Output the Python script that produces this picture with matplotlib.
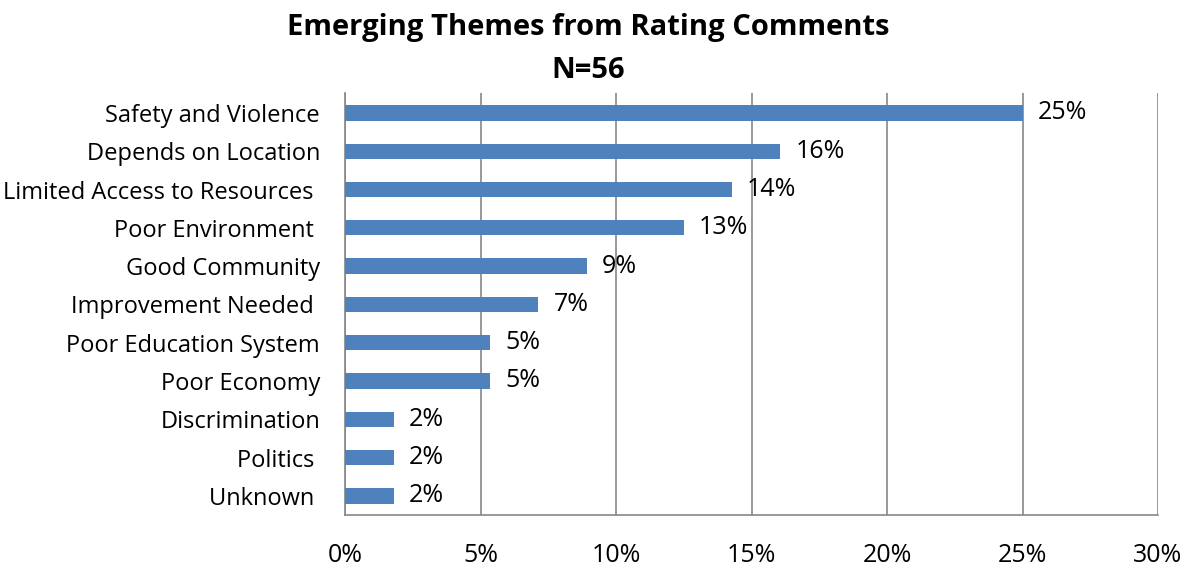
import matplotlib
matplotlib.use("Agg")
import matplotlib.pyplot as plt
from matplotlib.ticker import FuncFormatter

categories = ["Safety and Violence", "Depends on Location", "Limited Access to Resources ",
              "Poor Environment ", "Good Community", "Improvement Needed ",
              "Poor Education System", "Poor Economy", "Discrimination", "Politics ", "Unknown "]
values = [25.0, 16.07, 14.29, 12.5, 8.93, 7.14, 5.36, 5.36, 1.79, 1.79, 1.79]
labels = ["25%", "16%", "14%", "13%", "9%", "7%", "5%", "5%", "2%", "2%", "2%"]
xticks = [0, 5, 10, 15, 20, 25, 30]

plt.rcParams['font.family'] = ['Open Sans', 'DejaVu Sans']

fig = plt.figure(figsize=(11.99, 5.66), dpi=100)
ax = fig.add_axes([345/1199, 1-515/566, (1158-345)/1199, (515-93)/566])

ypos = list(range(len(categories)))
ax.barh(ypos, values, height=0.4, color="#4f81bd", zorder=3)
ax.set_ylim(10.5, -0.52)
ax.set_xlim(0, 30)
ax.set_xticks(xticks)
ax.xaxis.set_major_formatter(FuncFormatter(lambda v, p: f"{int(v)}%"))
ax.set_yticks(ypos)
ax.set_yticklabels(categories)
ax.tick_params(axis='y', length=0, pad=18, labelsize=17)
ax.tick_params(axis='x', length=0, pad=20, labelsize=18)
ax.grid(axis='x', color="#868686", linewidth=1.2, zorder=0)
for s in ["top", "right"]:
    ax.spines[s].set_visible(False)
for s in ["left", "bottom"]:
    ax.spines[s].set_color("#868686")
    ax.spines[s].set_linewidth(1.2)

for y, v, t in zip(ypos, values, labels):
    ax.text(v + 0.55, y, t, va='center', ha='left', fontsize=18, zorder=4)

fig.text(588/1199, 1-28/566, "Emerging Themes from Rating Comments", ha='center', va='center',
         fontsize=21, fontweight='bold')
fig.text(588/1199, 1-70/566, "N=56", ha='center', va='center',
         fontsize=21, fontweight='bold')

fig.savefig("out.png", dpi=100)
